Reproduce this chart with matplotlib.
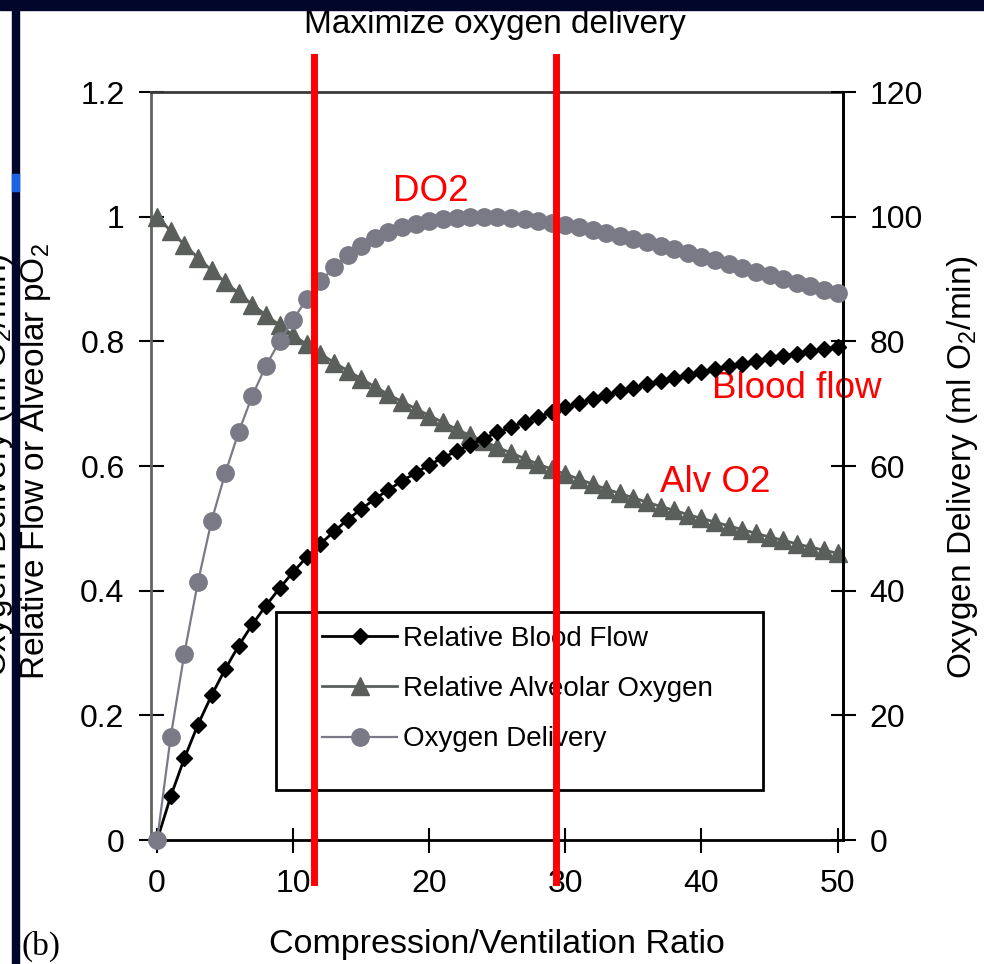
import matplotlib.pyplot as plt
from matplotlib.patches import Rectangle

plt.rcParams['font.family'] = ['Liberation Sans', 'DejaVu Sans']
plt.rcParams['mathtext.fontset'] = 'custom'
plt.rcParams['mathtext.rm'] = 'Liberation Sans'
plt.rcParams['mathtext.it'] = 'Liberation Sans'

# compression/ventilation ratio
ratio = list(range(51))

# relative blood flow (left axis)
blood_flow = [0.000, 0.070, 0.131, 0.185, 0.232, 0.274, 0.312, 0.346, 0.376, 0.404,
              0.430, 0.454, 0.475, 0.495, 0.514, 0.531, 0.547, 0.562, 0.576, 0.589,
              0.602, 0.613, 0.624, 0.634, 0.644, 0.654, 0.662, 0.671, 0.679, 0.686,
              0.694, 0.701, 0.707, 0.714, 0.720, 0.725, 0.731, 0.736, 0.741, 0.746,
              0.751, 0.756, 0.760, 0.764, 0.769, 0.773, 0.776, 0.780, 0.784, 0.787,
              0.791]

# relative alveolar oxygen (left axis)
alv_o2 = [1.000, 0.977, 0.955, 0.934, 0.914, 0.895, 0.877, 0.859, 0.842, 0.826,
          0.810, 0.795, 0.780, 0.766, 0.753, 0.740, 0.727, 0.715, 0.703, 0.692,
          0.681, 0.670, 0.659, 0.649, 0.640, 0.630, 0.621, 0.612, 0.603, 0.595,
          0.587, 0.579, 0.571, 0.563, 0.556, 0.549, 0.542, 0.535, 0.529, 0.522,
          0.516, 0.510, 0.504, 0.498, 0.492, 0.486, 0.481, 0.475, 0.470, 0.465,
          0.460]

# oxygen delivery, ml O2/min (right axis)
o2_delivery = [0.0, 16.6, 29.9, 41.4, 51.2, 58.8, 65.5, 71.3, 76.1, 80.0,
               83.5, 86.8, 89.6, 91.9, 93.8, 95.3, 96.5, 97.5, 98.3, 98.9,
               99.3, 99.6, 99.8, 99.9, 99.9, 99.9, 99.8, 99.6, 99.3, 99.0,
               98.7, 98.3, 97.9, 97.4, 96.9, 96.4, 95.9, 95.3, 94.8, 94.2,
               93.6, 93.0, 92.4, 91.8, 91.2, 90.6, 90.0, 89.4, 88.9, 88.3,
               87.8]

left_ticks = [0, 0.2, 0.4, 0.6, 0.8, 1.0, 1.2]
left_labels = ['0', '0.2', '0.4', '0.6', '0.8', '1', '1.2']
right_ticks = [0, 20, 40, 60, 80, 100, 120]
x_ticks = [0, 10, 20, 30, 40, 50]
marker_lines = [11.5, 29.3]

W, H = 984, 964
navy = '#02062a'

fig = plt.figure(figsize=(W / 100, H / 100), dpi=100)
ax = fig.add_axes([151 / W, 1 - 840 / H, 692 / W, 748 / H])
ax2 = ax.twinx()

ax.plot(ratio, blood_flow, color='black', lw=2, marker='D', ms=8.5,
        clip_on=False, zorder=4, label='Relative Blood Flow')
ax.plot(ratio, alv_o2, color='#5b5f5b', lw=2, marker='^', ms=12.5,
        clip_on=False, zorder=3, label='Relative Alveolar Oxygen')
ax2.plot(ratio, o2_delivery, color='#7a7a86', lw=1.6, marker='o', ms=12.5,
         clip_on=False, zorder=3, label='Oxygen Delivery')

ax.set_xlim(-0.45, 50.4)
ax.set_ylim(0, 1.2)
ax2.set_ylim(0, 120)
ax.set_xticks(x_ticks)
ax.set_yticks(left_ticks)
ax.set_yticklabels(left_labels)
ax2.set_yticks(right_ticks)

ax.tick_params(axis='both', direction='inout', length=18, width=1.5,
               labelsize=23, pad=10)
ax.tick_params(axis='x', pad=12)
ax2.tick_params(axis='y', direction='inout', length=18, width=1.5,
                labelsize=23, pad=10)

for side in ['left', 'right', 'top', 'bottom']:
    ax.spines[side].set_linewidth(2)
ax.spines['left'].set_color('#5f655f')
ax.spines['top'].set_color('#3a3a3a')
for side in ['left', 'top', 'bottom']:
    ax2.spines[side].set_visible(False)
ax2.spines['right'].set_linewidth(2)

# legend with a plain box around it
handles = ax.get_lines() + ax2.get_lines()
ax.legend(handles, [h.get_label() for h in handles], loc='upper left',
          bbox_to_anchor=(322 / W, 1 - 626 / H), bbox_transform=fig.transFigure,
          frameon=False, fontsize=20, handlelength=2.7, handletextpad=0.22,
          labelspacing=0.87, borderpad=0, borderaxespad=0)
ax2.add_patch(Rectangle((276 / W, 1 - 790 / H), 487 / W, 178 / H,
                        transform=fig.transFigure, fill=False, ec='black',
                        lw=2, clip_on=False, zorder=5))

# red range markers
for xv in marker_lines:
    ax2.axvline(xv, ymin=-0.056, ymax=1.047, color='red', lw=5,
                clip_on=False, zorder=10)

ax.text(20.1, 1.041, 'DO2', color='red', fontsize=26.5, ha='center', va='center')
ax.text(47.0, 0.725, 'Blood flow', color='red', fontsize=26.5, ha='center', va='center')
ax.text(41.0, 0.573, 'Alv O2', color='red', fontsize=26.5, ha='center', va='center')

fig.text(495 / W, 1 - 25 / H, 'Maximize oxygen delivery', fontsize=24,
         ha='center', va='center')
fig.text(497 / W, 1 - 945 / H, 'Compression/Ventilation Ratio', fontsize=24.5,
         ha='center', va='center')
fig.text(41 / W, 1 - 946 / H, '(b)', fontsize=24, family='Liberation Serif',
         ha='center', va='center')
fig.text(36 / W, 1 - 462 / H, 'Relative Flow or Alveolar pO$_2$', fontsize=24,
         rotation=90, ha='center', va='center')
fig.text(-2 / W, 1 - 465 / H, 'Oxygen Delivery (ml O$_2$/min)', fontsize=24,
         rotation=90, ha='center', va='center')
fig.text(962 / W, 1 - 467 / H, 'Oxygen Delivery (ml O$_2$/min)', fontsize=24,
         rotation=90, ha='center', va='center')

# dark slide border
fig.add_artist(Rectangle((0, 1 - 10 / H), 1, 10 / H, transform=fig.transFigure,
                         color=navy, zorder=20))
fig.add_artist(Rectangle((12 / W, 0), 7 / W, 1, transform=fig.transFigure,
                         color=navy, zorder=20))
fig.add_artist(Rectangle((12 / W, 1 - 191 / H), 7 / W, 17 / H,
                         transform=fig.transFigure, color='#1a63e6', zorder=21))

fig.savefig('out.png', dpi=100)
